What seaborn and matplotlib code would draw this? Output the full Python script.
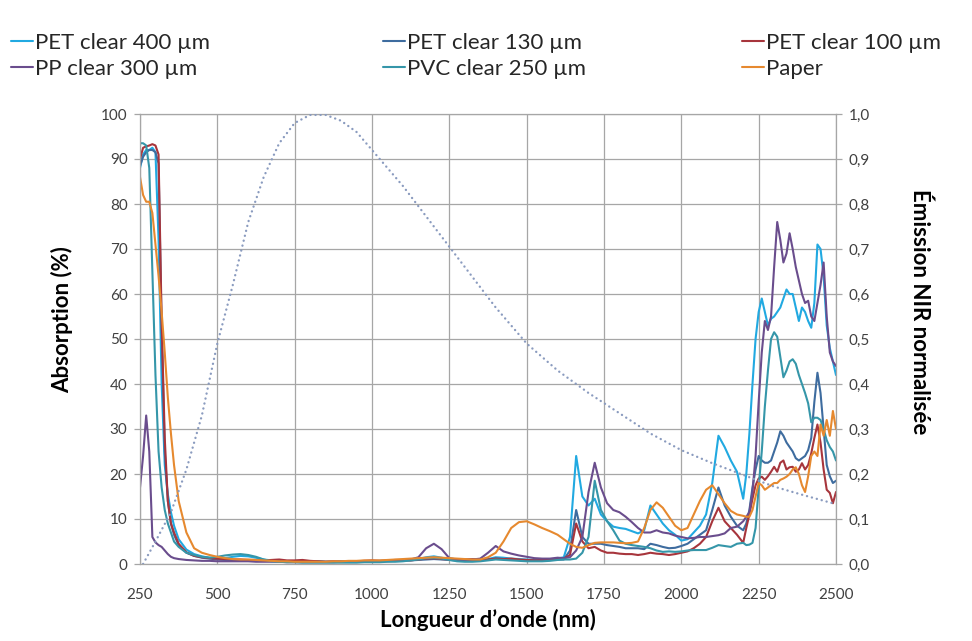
import matplotlib
matplotlib.use('Agg')
import matplotlib.pyplot as plt
import seaborn as sns
from matplotlib.ticker import FuncFormatter, MultipleLocator

# longueurs d'onde communes (nm)
wavelength = [
    250, 260, 270, 280, 290, 300, 310, 320, 330, 340, 350, 360,
    375, 400, 425, 450, 475, 500, 525, 550, 575, 600, 625, 650, 675, 700,
    725, 750, 775, 800, 825, 850, 875, 900, 925, 950, 975, 1000, 1025, 1050,
    1075, 1100, 1125, 1150, 1175, 1200, 1225, 1250, 1275, 1300, 1325, 1350,
    1375, 1400, 1425, 1450, 1475, 1500, 1525, 1550, 1575, 1600,
    1620, 1640, 1660, 1680, 1700, 1720, 1740, 1760, 1780, 1800, 1820, 1840,
    1860, 1880, 1900, 1920, 1940, 1960, 1980, 2000, 2020, 2040, 2060, 2080,
    2100, 2120, 2140, 2160, 2180, 2200,
    2210, 2220, 2230, 2240, 2250, 2260, 2270, 2280, 2290, 2300, 2310, 2320,
    2330, 2340, 2350, 2360, 2370, 2380, 2390, 2400, 2410, 2420, 2430, 2440,
    2450, 2460, 2470, 2480, 2490, 2500,
]

# absorption (%)
pet_400 = [
    88, 91, 92, 92, 92.5, 91.5, 72, 40, 22, 15.5, 11.5, 8.5,
    5.5, 3.2, 2.2, 1.7, 1.4, 1.2, 1.3, 1.6, 1.8, 1.7, 1.4, 1.0, 0.8, 0.7,
    0.6, 0.6, 0.5, 0.6, 0.6, 0.5, 0.5, 0.6, 0.6, 0.5, 0.6, 0.6, 0.7, 0.7,
    0.8, 0.8, 0.9, 1.1, 1.5, 1.7, 1.4, 1.0, 0.9, 0.8, 0.8, 0.9,
    1.1, 1.5, 1.4, 1.2, 1.1, 1.0, 0.9, 0.9, 1.0, 1.2,
    1.5, 6, 24, 15, 13, 14.5, 11, 9.5, 8.3, 8, 7.8, 7.3,
    6.8, 7.5, 13, 11, 9, 7.5, 6.5, 5.2, 5.5, 7, 8.5, 11,
    18, 28.5, 26, 23, 20.5, 14.5,
    20, 29, 40, 50, 56, 59, 56, 53, 54.5, 55, 56, 57,
    59, 61, 60, 60, 57, 54, 57, 56, 54, 52.5, 58, 71,
    70, 64, 53, 48, 45, 42,
]
pet_130 = [
    88.5, 90.5, 91.5, 92, 92, 91.5, 89, 52, 25, 14, 9, 6.5,
    4.2, 2.5, 1.8, 1.4, 1.2, 1.0, 0.9, 0.9, 0.9, 0.8, 0.8, 0.7, 0.7, 0.6,
    0.6, 0.5, 0.5, 0.5, 0.6, 0.5, 0.5, 0.5, 0.5, 0.5, 0.6, 0.6, 0.6, 0.7,
    0.7, 0.8, 0.8, 0.9, 1.0, 1.1, 1.0, 0.9, 0.8, 0.8, 0.8, 0.9,
    1.0, 1.2, 1.1, 1.0, 0.9, 0.8, 0.8, 0.8, 0.9, 1.0,
    1, 3, 12, 6, 4.5, 4.5, 4.5, 4.2, 4, 3.8, 3.5, 3.5,
    3.5, 3.3, 4.5, 4.2, 3.8, 3.5, 3.6, 4, 4.5, 5.5, 6.5, 7.5,
    12, 17, 13, 10.5, 8.5, 7.5,
    9, 12, 17, 21, 24, 23, 22.5, 22.5, 23, 25, 27, 29.5,
    28.5, 27, 26, 25, 23.5, 23, 23.5, 24, 25.3, 28, 36, 42.5,
    38, 30, 22, 19.5, 18, 18.5,
]
pet_100 = [
    90, 92.5, 92.8, 93, 93.3, 93, 91, 54, 28, 14, 9, 7,
    4.5, 2.6, 1.8, 1.5, 1.3, 1.2, 1.1, 1.0, 1.0, 0.9, 0.9, 0.8, 0.9, 1.0,
    0.8, 0.8, 0.9, 0.7, 0.6, 0.5, 0.6, 0.5, 0.5, 0.6, 0.7, 0.8, 0.7, 0.8,
    0.9, 0.9, 0.8, 1.0, 1.2, 1.3, 1.1, 1.0, 0.9, 1.0, 1.1, 1.0,
    1.0, 1.2, 1.1, 1.2, 1.0, 0.9, 0.8, 0.9, 1.0, 1.1,
    1.2, 2, 9, 5, 3.5, 3.8, 3, 2.5, 2.5, 2.3, 2.2, 2.2,
    2, 2.2, 2.5, 2.3, 2.2, 2, 2.2, 2.5, 2.8, 3.5, 4.5, 6,
    9.5, 12.5, 9.5, 8, 6.5, 4.7,
    8, 11, 14.5, 17.5, 19, 19.4, 18.7, 19.5, 20.5, 21.6, 20.5, 22.5,
    23, 21, 21.5, 21.6, 20.5, 21, 22.4, 21, 22, 24.6, 28, 31,
    27, 21, 16.5, 15.8, 13.5, 16,
]
pp_300 = [
    17, 24, 33, 25, 6, 4.8, 4.2, 3.8, 3, 2.2, 1.6, 1.3,
    1.1, 0.9, 0.8, 0.7, 0.7, 0.6, 0.6, 0.6, 0.6, 0.6, 0.5, 0.5, 0.5, 0.5,
    0.4, 0.4, 0.4, 0.4, 0.4, 0.4, 0.4, 0.5, 0.5, 0.5, 0.5, 0.5, 0.6, 0.6,
    0.7, 0.8, 1.0, 1.5, 3.5, 4.5, 3.3, 1.3, 1.0, 0.9, 1.0, 1.2,
    2.5, 4.0, 2.8, 2.3, 1.9, 1.6, 1.3, 1.2, 1.2, 1.4,
    1.3, 1.5, 3, 6, 16, 22.5, 17, 13.5, 12, 11.5, 10.5, 9.3,
    8, 7, 7, 7.5, 7, 6.8, 6.3, 6, 5.7, 5.8, 6, 6,
    6.2, 6.4, 6.8, 8, 8.3, 9.5,
    10.5, 11.5, 16, 24, 36, 47, 54, 52, 55, 66, 76, 72,
    67, 69, 73.5, 70, 66, 63, 60, 58, 58.5, 55, 54, 58,
    62, 67, 55, 47, 45, 44,
]
pvc_250 = [
    93.5, 93.5, 93, 88, 65, 42, 25, 17, 12, 9, 7, 5,
    3.8, 2.5, 2.0, 1.6, 1.4, 1.6, 1.9, 2.1, 2.2, 2.0, 1.6, 1.0, 0.6, 0.5,
    0.4, 0.4, 0.3, 0.3, 0.3, 0.3, 0.3, 0.3, 0.3, 0.3, 0.4, 0.4, 0.4, 0.5,
    0.5, 0.6, 0.8, 1.0, 1.3, 1.4, 1.2, 0.9, 0.6, 0.5, 0.5, 0.6,
    0.8, 1.0, 0.9, 0.8, 0.7, 0.6, 0.6, 0.6, 0.7, 0.9,
    1, 1, 1.2, 2.5, 6, 18.5, 12, 9.5, 7.5, 5.2, 4.5, 4.2,
    4, 3.8, 3.5, 3, 2.7, 2.8, 2.7, 2.8, 3, 3.1, 3.1, 3.1,
    3.6, 4.2, 4, 3.8, 4.5, 4.7,
    4.2, 4.3, 4.7, 8, 17, 25, 35, 43, 50, 51.5, 50.5, 46,
    41.5, 43, 45, 45.5, 44.5, 42, 40, 38, 35.7, 31.5, 32.5, 32.5,
    32, 30, 27.5, 26, 25, 23,
]
paper = [
    86, 82, 80.5, 80.5, 78, 71, 64, 56, 47, 37, 29, 22,
    14, 7, 3.5, 2.5, 2.0, 1.6, 1.3, 1.1, 1.0, 1.0, 0.9, 0.8, 0.7, 0.6,
    0.6, 0.5, 0.5, 0.5, 0.5, 0.5, 0.6, 0.6, 0.7, 0.7, 0.8, 0.8, 0.8, 0.9,
    1.0, 1.1, 1.2, 1.3, 1.4, 1.5, 1.4, 1.3, 1.2, 1.1, 1.0, 1.0,
    1.5, 2.5, 5.0, 8.0, 9.3, 9.5, 8.8, 8.0, 7.3, 6.5,
    5.5, 4.5, 3.8, 3.6, 4.2, 4.7, 4.8, 4.8, 4.8, 4.7, 4.6, 4.7,
    5, 8, 12, 13.7, 12.5, 10.5, 8.5, 7.5, 8, 11, 14, 16.5,
    17.5, 15.5, 13.5, 11.8, 11, 10.7,
    10.5, 10.5, 12, 15, 18, 17.5, 16.5, 17, 17.5, 18, 18, 18.7,
    19, 19.4, 20, 21, 21.5, 20, 17.5, 16, 19.5, 24, 25, 24,
    31, 28.5, 32, 28.5, 34, 30,
]

# émission NIR normalisée (axe de droite)
emis_wl = [260, 300, 350, 400, 450, 500, 550, 600, 650, 700, 750, 800, 850,
           900, 950, 1000, 1100, 1200, 1300, 1400, 1500, 1600, 1700, 1800,
           1900, 2000, 2100, 2200, 2300, 2400, 2500]
emis_val = [0.0, 0.05, 0.115, 0.21, 0.33, 0.49, 0.62, 0.76, 0.86, 0.935, 0.98,
            0.998, 0.998, 0.985, 0.96, 0.92, 0.84, 0.75, 0.66, 0.57, 0.49,
            0.43, 0.38, 0.335, 0.29, 0.253, 0.224, 0.198, 0.172, 0.152, 0.133]

series = [
    ('PET clear 400 µm', pet_400, '#21A9E1'),
    ('PET clear 130 µm', pet_130, '#3E6C9F'),
    ('PET clear 100 µm', pet_100, '#A7353C'),
    ('PP clear 300 µm', pp_300, '#6A4D8D'),
    ('PVC clear 250 µm', pvc_250, '#3596A9'),
    ('Paper', paper, '#E6892F'),
]

sns.set_theme(style='whitegrid')
plt.rcParams['font.family'] = ['Lato', 'DejaVu Sans']

fig = plt.figure(figsize=(9.72, 6.41), dpi=100)
ax = fig.add_axes([140 / 972, 1 - 564 / 641, 696 / 972, 450 / 641])

for name, vals, col in series:
    sns.lineplot(x=wavelength, y=vals, ax=ax, color=col, linewidth=1.5,
                 label=name, legend=False)

ax.set_xlim(250, 2500)
ax.set_ylim(0, 100)
ax.set_xticks(range(250, 2501, 250))
ax.set_yticks(range(0, 101, 10))
ax.grid(True, color='#A6A6A6', linewidth=0.9)
for sp in ax.spines.values():
    sp.set_color('#A6A6A6')
    sp.set_linewidth(0.9)
ax.tick_params(axis='both', length=4, width=0.9, color='#A6A6A6',
               labelcolor='#404040', labelsize=11)
ax.tick_params(axis='x', pad=13)
ax.tick_params(axis='y', pad=5)
ax.set_xlabel('')
ax.set_ylabel('')

# courbe d'émission en pointillés
ax2 = ax.twinx()
sns.lineplot(x=emis_wl, y=emis_val, ax=ax2, color='#8A9BBF', linewidth=1.7,
             linestyle=(0, (0.05, 2.1)), dash_capstyle='round')
ax2.set_ylim(0, 1)
ax2.yaxis.set_major_locator(MultipleLocator(0.1))
ax2.yaxis.set_major_formatter(FuncFormatter(lambda v, p: f'{v:.1f}'.replace('.', ',')))
ax2.grid(False)
for sp in ax2.spines.values():
    sp.set_visible(False)
ax2.tick_params(axis='y', length=4, width=0.9, color='#A6A6A6',
                labelcolor='#404040', labelsize=11, pad=5)
ax2.set_ylabel('')

# légende : trois colonnes de deux entrées en haut
lines = ax.get_lines()
columns = [(0, 3, 11), (1, 4, 383), (2, 5, 742)]
for top, bottom, xpos in columns:
    leg = fig.legend([lines[top], lines[bottom]],
                     [series[top][0], series[bottom][0]],
                     loc='upper left', bbox_to_anchor=(xpos / 972, 1 - 33 / 641),
                     frameon=False, fontsize=16, handlelength=1.0,
                     handletextpad=0.1, labelspacing=0.27,
                     borderpad=0, borderaxespad=0)

fig.text(62 / 972, 1 - 320 / 641, 'Absorption (%)', rotation=90, ha='center',
         va='center', fontsize=16, fontweight='bold', color='black')
fig.text(920 / 972, 1 - 312 / 641, 'Émission NIR normalisée', rotation=270,
         ha='center', va='center', fontsize=16, fontweight='bold', color='black')
fig.text(488 / 972, 1 - 620 / 641, 'Longueur d’onde (nm)', ha='center',
         va='center', fontsize=16, fontweight='bold', color='black')

fig.savefig('out.png', dpi=100)
